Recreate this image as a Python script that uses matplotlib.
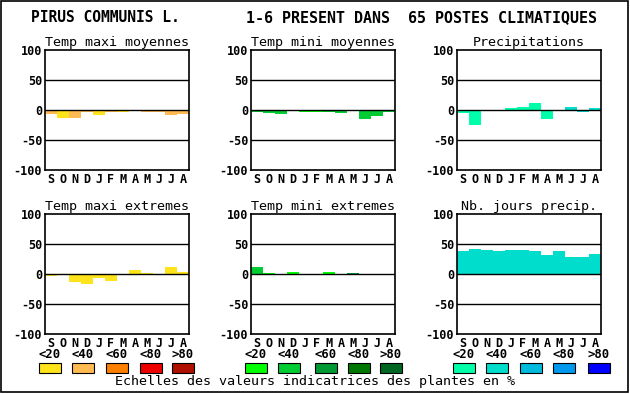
import numpy as np
import matplotlib
matplotlib.use("Agg")
import matplotlib.pyplot as plt
from matplotlib.patches import Rectangle

months = ["S", "O", "N", "D", "J", "F", "M", "A", "M", "J", "J", "A"]
titles = ["Temp maxi moyennes", "Temp mini moyennes", "Precipitations",
          "Temp maxi extremes", "Temp mini extremes", "Nb. jours precip."]

# palettes (legend scales)
reds = ["#ffe41c", "#ffba52", "#ff8000", "#ee0000", "#b01000"]
greens = ["#00ff00", "#00cc33", "#009933", "#007700", "#006622"]
blues = ["#00ffaa", "#00ddcc", "#00bbdd", "#0099ee", "#0000ff"]
scale_labels = ["<20", "<40", "<60", "<80", ">80"]

# values, class index into palette
tmax_moy = [-7, -13, -13, -3, -9, -4, -3, -1, -3, -3, -9, -6]
tmax_moy_cls = [1, 0, 1, 1, 0, 1, 0, 1, 1, 1, 1, 1]
tmin_moy = [-4, -5, -7, 0, -3, -3, -3, -5, -2, -15, -10, -4]
tmin_moy_cls = [1, 1, 1, 1, 0, 0, 1, 1, 1, 1, 1, 1]
precip = [-5, -25, -2, 0, 4, 5, 12, -15, 0, 5, -4, 4]
precip_cls = [0, 0, 0, 0, 0, 0, 0, 0, 0, 1, 1, 1]
tmax_ext = [-4, -2, -14, -16, -6, -11, -2, 6, 2, 0, 11, 4]
tmax_ext_cls = [0] * 12
tmin_ext = [11, 2, -2, 4, 0, -2, 4, -2, 2, 0, 0, 0]
tmin_ext_cls = [1, 0, 1, 0, 0, 1, 0, 1, 2, 0, 0, 0]
nb_jours = [38, 42, 40, 38, 40, 40, 38, 31, 38, 28, 28, 34]
nb_jours_cls = [1] * 12

series = [(tmax_moy, tmax_moy_cls, reds), (tmin_moy, tmin_moy_cls, greens),
          (precip, precip_cls, blues), (tmax_ext, tmax_ext_cls, reds),
          (tmin_ext, tmin_ext_cls, greens), (nb_jours, nb_jours_cls, blues)]

W, H = 630, 394
fig = plt.figure(figsize=(W / 100, H / 100), dpi=100)
mono = "DejaVu Sans Mono"

def fx(px):
    return px / W

def fy(py):
    return 1 - py / H

lefts = [45, 251, 457]
tops = [50, 214]
aw, ah = 144, 120

for i, (vals, cls, pal) in enumerate(series):
    r, c = divmod(i, 3)
    x0, y0 = lefts[c], tops[r]
    ax = fig.add_axes([fx(x0), fy(y0 + ah), aw / W, ah / H])
    cols = [pal[k] for k in cls]
    ax.bar(np.arange(12), vals, width=1.0, color=cols, linewidth=0)
    for yv in (50, 0, -50):
        ax.axhline(yv, color="black", lw=1.0, zorder=3)
    ax.set_xlim(-0.5, 11.5)
    ax.set_ylim(-100, 100)
    ax.set_yticks([100, 50, 0, -50, -100])
    ax.set_yticklabels(["100", "50", "0", "-50", "-100"], fontfamily=mono,
                       fontweight="bold", fontsize=8.5)
    ax.set_xticks(np.arange(12))
    ax.set_xticklabels(months, fontfamily=mono, fontweight="bold", fontsize=8.5)
    ax.tick_params(length=0, pad=2)
    for s in ax.spines.values():
        s.set_linewidth(1.2)
    ax.set_title(titles[i], fontfamily=mono, fontsize=9.6, pad=3)

fig.text(fx(105), fy(18), "PIRUS COMMUNIS L.", fontfamily=mono, fontsize=10.5,
         fontweight="bold", ha="center", va="center")
fig.text(fx(421), fy(18), "1-6 PRESENT DANS  65 POSTES CLIMATIQUES", fontfamily=mono,
         fontsize=10.8, fontweight="bold", ha="center", va="center")

# legend scales
box_x = [[39, 72, 106, 140, 172], [245, 278, 315, 348, 380], [453, 486, 520, 553, 588]]
for pal, xs in zip([reds, greens, blues], box_x):
    for col, lab, bx in zip(pal, scale_labels, xs):
        fig.text(fx(bx + 11), fy(355), lab, fontfamily=mono, fontweight="bold",
                 fontsize=8.8, ha="center", va="center")
        fig.patches.append(Rectangle((fx(bx), fy(373)), 22 / W, 10 / H,
                                     transform=fig.transFigure, facecolor=col,
                                     edgecolor="black", lw=0.8))

fig.text(fx(315), fy(382), "Echelles des valeurs indicatrices des plantes en %",
         fontfamily=mono, fontsize=9.6, ha="center", va="center")

fig.patches.append(Rectangle((fx(1), fy(392)), 627 / W, 391 / H,
                             transform=fig.transFigure, fill=False,
                             edgecolor="black", lw=1.2))

fig.savefig("out.png", dpi=100)
